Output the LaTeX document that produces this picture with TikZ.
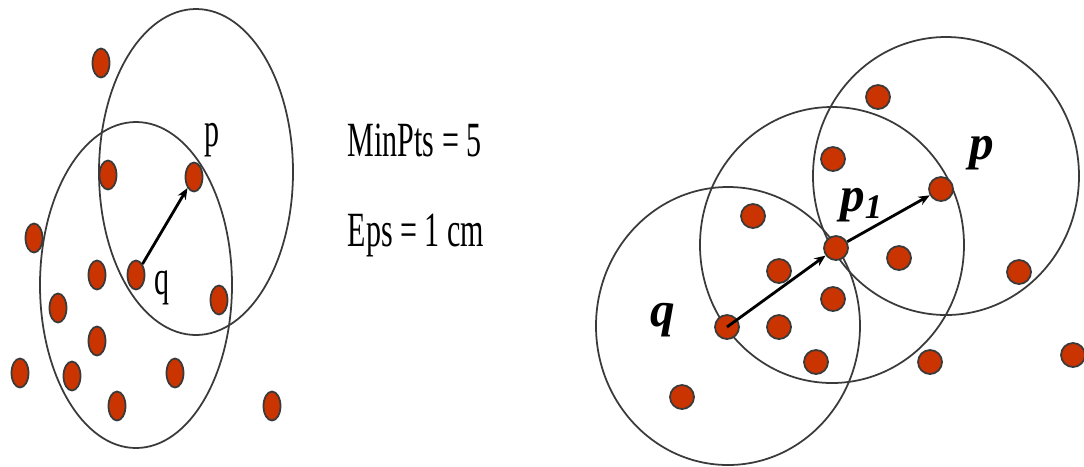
\documentclass[tikz,border=0pt]{standalone}
\usepackage{fontspec}
\setmainfont{Liberation Serif}
\usetikzlibrary{arrows.meta,shapes.geometric}
\definecolor{dotred}{HTML}{C93400}
\definecolor{ringgray}{HTML}{3A3A3A}
\newcommand{\narrowtxt}[1]{\scalebox{0.61}[1]{#1}}
\tikzset{
  ldot/.style={ellipse, draw=ringgray, fill=dotred, line width=0.5pt,
    inner sep=0pt, minimum width=0.17cm, minimum height=0.29cm},
  rdot/.style={circle, draw=ringgray, fill=dotred, line width=0.5pt,
    inner sep=0pt, minimum size=0.24cm},
  ring/.style={draw=ringgray, line width=0.5pt},
  reach/.style={line width=0.8pt, -{Stealth[length=3.2pt,width=2.6pt]}},
  lbl/.style={inner sep=0pt, font=\fontsize{14}{16}\selectfont},
  blbl/.style={inner sep=0pt, font=\fontsize{14}{16}\selectfont\bfseries\itshape}
}
\begin{document}
\begin{tikzpicture}[x=0.01cm, y=-0.01cm]
  \useasboundingbox (0,0) rectangle (1084,466);
  % left: neighbourhoods
  \draw[ring] (196,172) ellipse [x radius=97, y radius=163];
  \draw[ring] (136,285) ellipse [x radius=96, y radius=163];
  % left points
  \node[ldot] (l1)  at (101,63)  {};
  \node[ldot] (l2)  at (108,175) {};
  \node[ldot] (lp)  at (194,177) {};
  \node[ldot] (l3)  at (34,238)  {};
  \node[ldot] (l4)  at (97,275)  {};
  \node[ldot] (lq)  at (136,275) {};
  \node[ldot] (l5)  at (58,308)  {};
  \node[ldot] (l6)  at (219,300) {};
  \node[ldot] (l7)  at (97,341)  {};
  \node[ldot] (l8)  at (20,373)  {};
  \node[ldot] (l9)  at (72,376)  {};
  \node[ldot] (l10) at (175,373) {};
  \node[ldot] (l11) at (117,406) {};
  \node[ldot] (l12) at (272,406) {};
  \draw[reach] (lq) -- (lp);
  \node[lbl] (lplbl) at (212,140) {\narrowtxt{p}};
  \node[lbl] (lqlbl) at (162,288) {\narrowtxt{q}};
  % parameters
  \node[lbl, anchor=west] (minpts) at (347,140) {\narrowtxt{MinPts = 5}};
  \node[lbl, anchor=west] (eps)    at (347,235) {\narrowtxt{Eps = 1 cm}};
  % right: neighbourhoods
  \draw[ring] (728,326) ellipse [x radius=132, y radius=139];
  \draw[ring] (832,245) ellipse [x radius=132, y radius=138];
  \draw[ring] (946,176) ellipse [x radius=133, y radius=139];
  % right points
  \node[rdot] (r1)  at (878,97)  {};
  \node[rdot] (r2)  at (833,159) {};
  \node[rdot] (rp)  at (941,189) {};
  \node[rdot] (r3)  at (753,216) {};
  \node[rdot] (rp1) at (836,248) {};
  \node[rdot] (r4)  at (899,258) {};
  \node[rdot] (r5)  at (779,271) {};
  \node[rdot] (r6)  at (1019,272) {};
  \node[rdot] (r7)  at (833,299) {};
  \node[rdot] (rq)  at (727,327) {};
  \node[rdot] (r8)  at (779,327) {};
  \node[rdot] (r9)  at (816,362) {};
  \node[rdot] (r10) at (930,362) {};
  \node[rdot] (r11) at (1073,355) {};
  \node[rdot] (r12) at (682,397) {};
  \draw[reach] (rq.center) -- (rp1);
  \draw[reach] (rp1) -- (rp);
  \node[blbl] (rqlbl)  at (663,320) {q};
  \node[blbl] (rp1lbl) at (862,205) {p\textsubscript{1}};
  \node[blbl] (rplbl)  at (982,153) {p};
\end{tikzpicture}
\end{document}
